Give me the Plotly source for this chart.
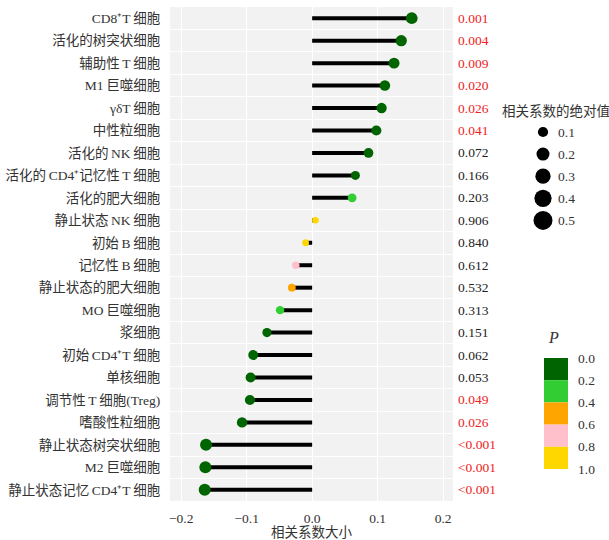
import math
import plotly.graph_objects as go

# Immune cell types, correlation coefficients and P values (top to bottom)
S = "\u2009"  # thin space between Latin and CJK runs
cells = [
    f"CD8⁺T{S}细胞", "活化的树突状细胞", f"辅助性{S}T{S}细胞", f"M1{S}巨噬细胞", f"γδT{S}细胞",
    "中性粒细胞", f"活化的{S}NK{S}细胞", f"活化的{S}CD4⁺记忆性{S}T{S}细胞", "活化的肥大细胞",
    f"静止状态{S}NK{S}细胞", f"初始{S}B{S}细胞", f"记忆性{S}B{S}细胞", "静止状态的肥大细胞",
    f"MO{S}巨噬细胞", "浆细胞", f"初始{S}CD4⁺T{S}细胞", "单核细胞", f"调节性{S}T{S}细胞(Treg)",
    "嗜酸性粒细胞", "静止状态树突状细胞", f"M2{S}巨噬细胞", f"静止状态记忆{S}CD4⁺T{S}细胞",
]
corr = [
    0.152, 0.136, 0.125, 0.111, 0.106, 0.098, 0.086, 0.066, 0.061, 0.005, -0.010,
    -0.025, -0.031, -0.049, -0.069, -0.090, -0.094, -0.095, -0.107, -0.162, -0.163, -0.164,
]
p_values = [
    0.001, 0.004, 0.009, 0.020, 0.026, 0.041, 0.072, 0.166, 0.203, 0.906, 0.840,
    0.612, 0.532, 0.313, 0.151, 0.062, 0.053, 0.049, 0.026, 0.0005, 0.0005, 0.0005,
]
p_labels = [
    "0.001", "0.004", "0.009", "0.020", "0.026", "0.041", "0.072", "0.166", "0.203",
    "0.906", "0.840", "0.612", "0.532", "0.313", "0.151", "0.062", "0.053", "0.049",
    "0.026", "<0.001", "<0.001", "<0.001",
]
size_breaks = [0.1, 0.2, 0.3, 0.4, 0.5]
p_breaks = [0.0, 0.2, 0.4, 0.6, 0.8, 1.0]
p_colors = ["#006400", "#32CD32", "#FFA500", "#FFC0CB", "#FFD700"]

FONT = "Liberation Serif, Times New Roman, Noto Sans CJK SC, serif"
TXT = "#333333"

W, H = 609, 540
ML, MR, MT, MB = 170, 0, 7, 39
plot_w = W - ML - MR
panel_frac = 283 / plot_w
leg_d0 = 0.66


def dot_size(r):
    return math.sqrt(40 + 640 * abs(r))


def p_color(p):
    for k in range(len(p_colors)):
        if p <= p_breaks[k + 1] and (p > p_breaks[k] or k == 0):
            return p_colors[k]
    return p_colors[-1]


rows = list(range(len(cells)))

fig = go.Figure()

# lollipop stems from zero to each coefficient
sx, sy = [], []
for i, r in zip(rows, corr):
    sx += [0, r, None]
    sy += [i, i, None]
fig.add_trace(go.Scatter(x=sx, y=sy, mode="lines",
                         line=dict(color="#000000", width=4),
                         hoverinfo="skip", showlegend=False))

# heads: size by |r|, colour by P bin
fig.add_trace(go.Scatter(
    x=corr, y=rows, mode="markers",
    marker=dict(size=[dot_size(r) for r in corr],
                color=[p_color(p) for p in p_values],
                line=dict(width=0), opacity=1),
    showlegend=False,
))

# P value column
annotations = []
for i, (p, lab) in enumerate(zip(p_values, p_labels)):
    annotations.append(dict(
        x=1, xref="x domain", y=i, yref="y", xshift=3,
        text=lab, showarrow=False, xanchor="left", yanchor="middle",
        font=dict(family=FONT, size=13.5, color="#EE2222" if p < 0.05 else "#222222"),
    ))

# size guide
leg_x = 543
leg_y0, leg_dy = 132, 22.1
annotations.append(dict(x=500, y=111, xref="x2", yref="y2", text="相关系数的绝对值",
                        showarrow=False, xanchor="left", yanchor="middle",
                        font=dict(family=FONT, size=13.5, color=TXT)))
fig.add_trace(go.Scatter(
    x=[leg_x] * len(size_breaks),
    y=[leg_y0 + k * leg_dy for k in range(len(size_breaks))],
    mode="markers", xaxis="x2", yaxis="y2",
    marker=dict(size=[dot_size(v) for v in size_breaks], color="#000000",
                opacity=1, line=dict(width=0)),
    hoverinfo="skip", showlegend=False,
))
for k, v in enumerate(size_breaks):
    annotations.append(dict(x=556, y=leg_y0 + k * leg_dy, xref="x2", yref="y2",
                            text=f"{v:.1f}", showarrow=False, xanchor="left", yanchor="middle",
                            font=dict(family=FONT, size=13.5, color=TXT)))

# P colour steps
shapes = [dict(type="rect", xref="x domain", yref="y domain", x0=0, x1=1, y0=0, y1=1,
               fillcolor="#F2F2F2", line=dict(width=0), layer="below")]
box_x0, box_x1 = 544, 568
box_top, box_h = 358, 22.2
for k, c in enumerate(p_colors):
    shapes.append(dict(type="rect", xref="x2", yref="y2", x0=box_x0, x1=box_x1,
                       y0=box_top + k * box_h, y1=box_top + (k + 1) * box_h,
                       fillcolor=c, line=dict(width=0)))
for k, b in enumerate(p_breaks):
    annotations.append(dict(x=576, y=box_top + k * box_h, xref="x2", yref="y2",
                            text=f"{b:.1f}", showarrow=False, xanchor="left", yanchor="middle",
                            font=dict(family=FONT, size=13.5, color=TXT)))
annotations.append(dict(x=553, y=337, xref="x2", yref="y2", text="<i>P</i>",
                        showarrow=False, xanchor="center", yanchor="middle",
                        font=dict(family=FONT, size=16, color=TXT)))

fig.update_layout(
    width=W, height=H,
    margin=dict(l=ML, r=MR, t=MT, b=MB, pad=0),
    paper_bgcolor="white", plot_bgcolor="white",
    font=dict(family=FONT, size=13.5, color=TXT),
    showlegend=False,
    shapes=shapes,
    annotations=annotations,
    xaxis=dict(
        domain=[0, panel_frac], range=[-0.217, 0.215],
        tickvals=[-0.2, -0.1, 0.0, 0.1, 0.2],
        ticktext=["−0.2", "−0.1", "0.0", "0.1", "0.2"],
        showgrid=True, gridcolor="white", gridwidth=1, zeroline=False,
        showline=False, ticks="outside", ticklen=5, tickcolor="rgba(0,0,0,0)",
        tickfont=dict(family=FONT, size=13.5, color=TXT),
        title=dict(text="相关系数大小", standoff=1,
                   font=dict(family=FONT, size=13.5, color=TXT)),
        fixedrange=True,
    ),
    yaxis=dict(
        range=[len(cells) - 0.5, -0.5],
        tickvals=rows, ticktext=cells,
        showgrid=False, zeroline=False, showline=False,
        ticks="outside", ticklen=6, tickcolor="rgba(0,0,0,0)",
        tickfont=dict(family=FONT, size=13.5, color=TXT),
        minor=dict(tickvals=[i + 0.5 for i in rows[:-1]], showgrid=True,
                   gridcolor="white", gridwidth=1, ticks=""),
        fixedrange=True,
    ),
    xaxis2=dict(domain=[leg_d0, 1], anchor="y2",
                range=[ML + leg_d0 * plot_w, ML + plot_w], visible=False, fixedrange=True),
    yaxis2=dict(domain=[0, 1], anchor="x2",
                range=[H - MB, MT], visible=False, fixedrange=True),
)

fig.write_html("out.html")
